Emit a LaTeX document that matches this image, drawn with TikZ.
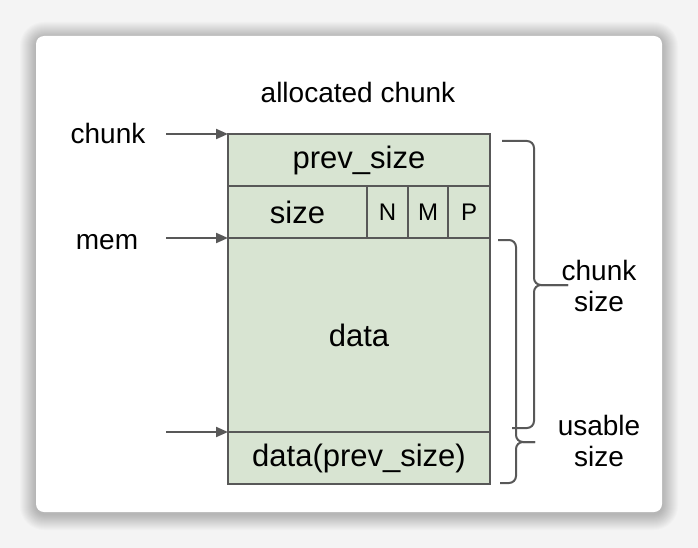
\documentclass[tikz,border=0pt]{standalone}
\usepackage{fontspec}
\setmainfont{Liberation Sans}
\usetikzlibrary{arrows.meta}
\definecolor{cellfill}{RGB}{216,228,210}
\definecolor{linegray}{RGB}{88,88,88}
\definecolor{pagegray}{RGB}{244,244,244}
\tikzset{
  cell/.style={draw=linegray,line width=1.6pt,fill=cellfill,inner sep=0pt,outer sep=0pt,
    font=\fontsize{31}{34}\selectfont},
  flag/.style={cell,font=\fontsize{24}{27}\selectfont},
  lbl/.style={font=\fontsize{28}{33}\selectfont,align=center,inner sep=0pt},
  ptr/.style={draw=linegray,line width=2pt,-{Triangle[length=12pt,width=10pt]}},
  brace/.style={draw=linegray,line width=2pt,rounded corners=7pt}
}
\begin{document}
\begin{tikzpicture}[x=1pt,y=-1pt]
      % page and card
      \fill[pagegray] (0,0) rectangle (698,548);
      \useasboundingbox (0,0) rectangle (698,548);
      \foreach \i in {1,...,16}
        \fill[black,opacity=0.016,rounded corners=8+\i] (36-\i,36-\i+2) rectangle (662+\i,512+\i+2);
      \fill[white,rounded corners=8pt] (36,36) rectangle (662,512);
      % title
      \node[lbl] (title) at (358,92) {allocated chunk};
      % chunk header
      \node[cell,minimum width=262,minimum height=52] (prev) at (359,160) {prev\_size};
      \node[cell,anchor=north west,minimum width=139,minimum height=52] (size) at (prev.south west) {size};
      \node[flag,anchor=north west,minimum width=41,minimum height=52] (nflag) at (size.north east) {N};
      \node[flag,anchor=north west,minimum width=40,minimum height=52] (mflag) at (nflag.north east) {M};
      \node[flag,anchor=north west,minimum width=42,minimum height=52] (pflag) at (mflag.north east) {P};
      % body
      \node[cell,anchor=north west,minimum width=262,minimum height=194] (data) at (size.south west) {data};
      \node[cell,anchor=north west,minimum width=262,minimum height=52] (nextprev) at (data.south west) {data(prev\_size)};
      % pointers
      \node[lbl] (chunk) at (108,133) {chunk};
      \node[lbl] (mem) at (107,242) {mem};
      \coordinate (chunkptr) at (166,134);
      \coordinate (memptr) at (166,238);
      \coordinate (nextptr) at (166,432);
      \draw[ptr] (chunkptr) -- (prev.north west);
      \draw[ptr] (memptr) -- (data.north west);
      \draw[ptr] (nextptr) -- (nextprev.north west);
      % braces
      \node[lbl] (chunksize) at (599,286) {chunk\\[-2pt]size};
      \node[lbl] (usable) at (599,441) {usable\\[-2pt]size};
      \draw[brace] (502,141) -- (534,141) -- (534,285) -- (568,285);
      \draw[brace] (568,285) -- (534,285) -- (534,428) -- (512,428);
      \draw[brace] (498,240) -- (516,240) -- (516,442) -- (535,442);
      \draw[brace] (535,442) -- (516,442) -- (516,483) -- (500,483);
    \end{tikzpicture}
\end{document}
